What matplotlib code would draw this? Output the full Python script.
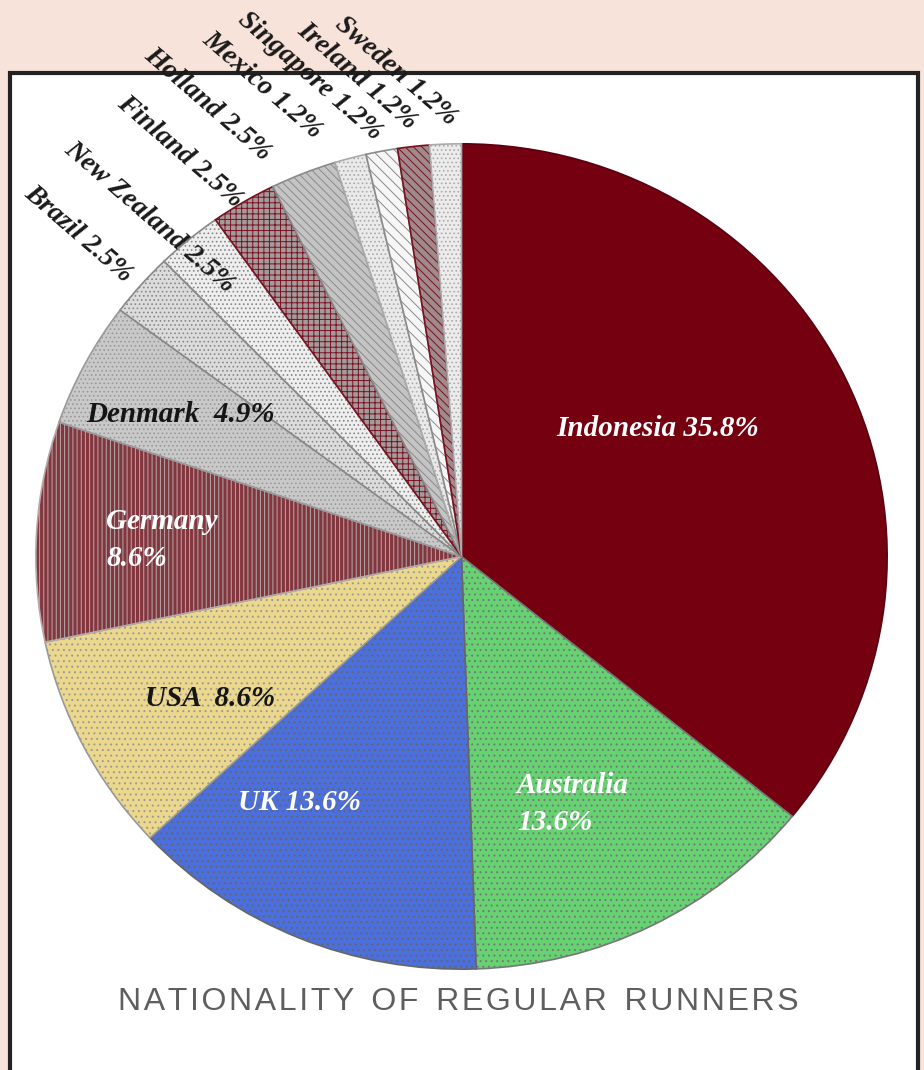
import matplotlib.pyplot as plt
from matplotlib.patches import Rectangle

# data
countries = ['Indonesia', 'Australia', 'UK', 'USA', 'Germany', 'Denmark', 'Brazil',
             'New Zealand', 'Finland', 'Holland', 'Mexico', 'Singapore', 'Ireland', 'Sweden']
shares = [35.8, 13.6, 13.6, 8.6, 8.6, 4.9, 2.5, 2.5, 2.5, 2.5, 1.2, 1.2, 1.2, 1.2]

# look of each slice: face, hatch, hatch/edge colour
faces = ['#740010', '#66d272', '#4b6fdc', '#ebd88c', '#84363e', '#c9c9c9', '#dcdcdc',
         '#eeeeee', '#a49c9c', '#c4c4c4', '#eaeaea', '#f6f6f6', '#a08a8c', '#ececec']
hatches = [None, '...', '...', '...', '||||', '....', '....', '....', '+++', '\\\\\\\\',
           '....', '\\\\\\', '\\\\\\\\', '....']
edges = ['#5a0010', '#777777', '#666666', '#999999', '#b4aaaa', '#999999', '#888888',
         '#888888', '#7a1020', '#8a8a8a', '#aaaaaa', '#8a8a8a', '#7a1020', '#aaaaaa']

W, H = 924, 1070
fig = plt.figure(figsize=(W / 100, H / 100), dpi=100)
fig.patch.set_facecolor('#f8e3da')

# white panel with dark border, on a background axes in pixel units
bg = fig.add_axes([0, 0, 1, 1], zorder=0)
bg.set_xlim(0, W)
bg.set_ylim(H, 0)
bg.axis('off')
bg.add_patch(Rectangle((10, 73), 908, 1010, facecolor='white', edgecolor='#222222', linewidth=3))

plt.rcParams['hatch.linewidth'] = 0.7

ax = fig.add_axes([35 / W, 100 / H, 853 / W, 827 / H], zorder=1)
wedges, _ = ax.pie(shares, startangle=90, counterclock=False,
                   wedgeprops=dict(linewidth=1.2))
for w, fc, hc, ec in zip(wedges, faces, hatches, edges):
    w.set_facecolor(fc)
    w.set_edgecolor(ec)
    if hc:
        w.set_hatch(hc)
ax.set_aspect('auto')
ax.set_xlim(-1.002, 1.002)
ax.set_ylim(-1.002, 1.002)
ax.axis('off')

serif = dict(family=['Liberation Serif', 'DejaVu Serif'], weight='bold', style='italic')
fs = 21

# labels inside big slices
ax.text(0.46, 0.31, 'Indonesia 35.8%', color='white', fontsize=fs, ha='center', va='center', **serif)
ax.text(0.13, -0.60, 'Australia\n13.6%', color='white', fontsize=fs, ha='left', va='center',
        linespacing=1.45, **serif)
ax.text(-0.38, -0.595, 'UK 13.6%', color='white', fontsize=fs, ha='center', va='center', **serif)
ax.text(-0.59, -0.345, 'USA  8.6%', color='#151515', fontsize=fs, ha='center', va='center', **serif)
ax.text(-0.835, 0.04, 'Germany\n8.6%', color='white', fontsize=fs, ha='left', va='center',
        linespacing=1.45, **serif)
ax.text(-0.66, 0.345, 'Denmark  4.9%', color='#151515', fontsize=fs, ha='center', va='center', **serif)

# small slices: rotated labels fanned out above the rim (end point of each label, pixels)
label_ends = {'Brazil': (129, 278), 'New Zealand': (231, 288), 'Finland': (239, 203),
              'Holland': (267, 156), 'Mexico': (319, 134), 'Singapore': (379, 136),
              'Ireland': (413, 125), 'Sweden': (454, 121)}
for name, val in zip(countries, shares):
    if name not in label_ends:
        continue
    x, y = label_ends[name]
    ax.text(x, y, f'{name} {val}%', transform=bg.transData, color='#1a1a1a', fontsize=20,
            rotation=-41, rotation_mode='anchor', ha='right', va='center',
            clip_on=False, zorder=5, **serif)

title = '  '.join('\u200a'.join(word) for word in 'NATIONALITY OF REGULAR RUNNERS'.split())
bg.text(458, 1002, title, color='#5e5e5e', fontsize=23, ha='center', va='center',
        family=['Liberation Sans', 'DejaVu Sans'])

fig.savefig('out.png', dpi=100, facecolor=fig.get_facecolor())
